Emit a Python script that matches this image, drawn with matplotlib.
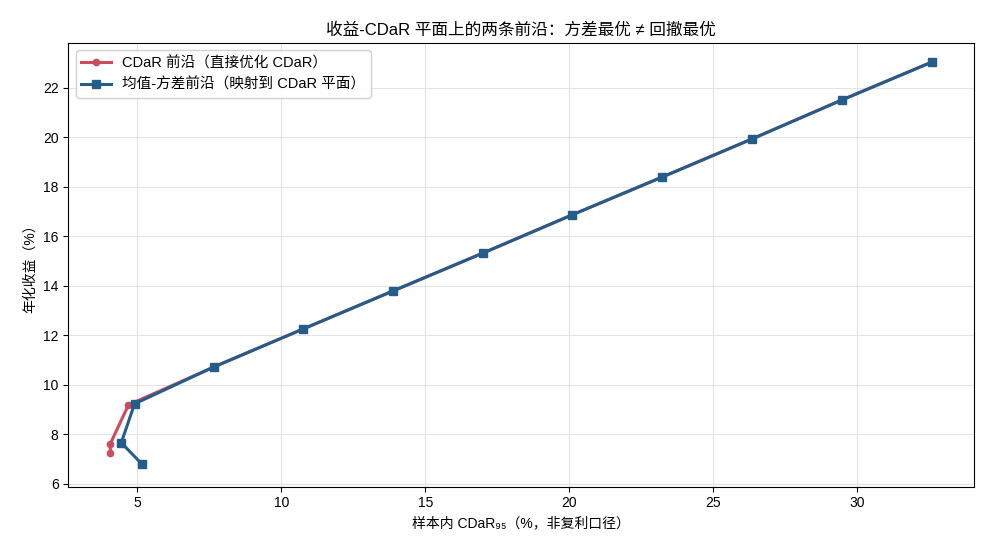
import matplotlib
matplotlib.use("Agg")
import matplotlib.pyplot as plt

plt.rcParams['font.family'] = ['Liberation Sans', 'Noto Sans CJK SC', 'DejaVu Sans']
plt.rcParams['axes.unicode_minus'] = False

# CDaR 前沿（直接优化）
cdar_x = [4.06, 4.06, 4.69, 7.67, 10.76, 13.89, 17.01, 20.10, 23.23, 26.35, 29.48, 32.60]
cdar_y = [7.25, 7.62, 9.19, 10.73, 12.26, 13.80, 15.33, 16.87, 18.40, 19.94, 21.52, 23.05]

# 均值-方差前沿（映射到 CDaR 平面）
mv_x = [5.17, 4.44, 4.90, 7.67, 10.76, 13.89, 17.01, 20.10, 23.23, 26.35, 29.48, 32.60]
mv_y = [6.78, 7.66, 9.23, 10.73, 12.26, 13.80, 15.33, 16.87, 18.40, 19.94, 21.52, 23.05]

fig, ax = plt.subplots(figsize=(9.9, 5.5), dpi=100)

ax.plot(cdar_x, cdar_y, color='#cc4c5c', linewidth=2.2, marker='o', markersize=4.5,
        label='CDaR 前沿（直接优化 CDaR）')
ax.plot(mv_x, mv_y, color='#255d8a', linewidth=2.2, marker='s', markersize=5.5,
        label='均值-方差前沿（映射到 CDaR 平面）')

ax.set_xlim(2.6, 34.06)
ax.set_ylim(5.88, 23.82)
ax.set_xticks([5, 10, 15, 20, 25, 30])
ax.set_yticks([6, 8, 10, 12, 14, 16, 18, 20, 22])
ax.grid(True, color='#e3e3e3', linewidth=0.8)
ax.set_axisbelow(True)

ax.set_title('收益-CDaR 平面上的两条前沿：方差最优 ≠ 回撤最优', fontsize=12)
ax.set_xlabel('样本内 CDaR₉₅（%，非复利口径）', fontsize=10)
ax.set_ylabel('年化收益（%）', fontsize=10)
ax.legend(loc='upper left', fontsize=10.5, framealpha=0.9)

plt.subplots_adjust(left=0.069, right=0.984, top=0.922, bottom=0.115)
plt.savefig('out.png', dpi=100)
plt.close()
